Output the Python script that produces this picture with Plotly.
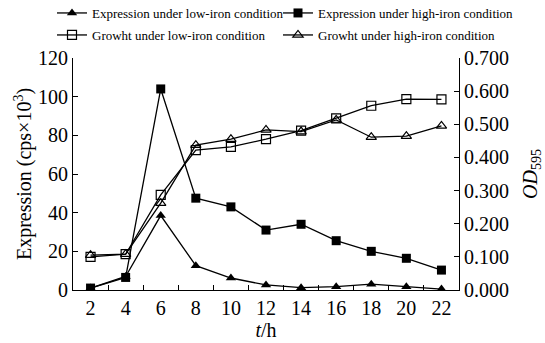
import plotly.graph_objects as go

hours = [2, 4, 6, 8, 10, 12, 14, 16, 18, 20, 22]
expr_low = [1.0, 7.0, 38.5, 12.6, 6.2, 2.6, 1.2, 1.7, 3.0, 1.7, 0.5]
expr_high = [1.0, 6.5, 104.0, 47.5, 43.0, 31.0, 34.0, 25.5, 20.0, 16.4, 10.3]
growth_low = [0.100, 0.108, 0.287, 0.422, 0.432, 0.455, 0.481, 0.518, 0.556, 0.576, 0.575]
growth_high = [0.105, 0.108, 0.262, 0.437, 0.455, 0.483, 0.478, 0.513, 0.461, 0.464, 0.495]

names = ["Expression under low-iron condition", "Expression under high-iron condition",
         "Growht under low-iron condition", "Growht under high-iron condition"]

FONT = "Liberation Serif, Times New Roman, serif"
line = dict(color="black", width=1.3)

fig = go.Figure()
fig.add_trace(go.Scatter(x=hours, y=expr_low, name=names[0], mode="lines+markers", legend="legend",
                         line=line, marker=dict(symbol="triangle-up", size=9, color="black")))
fig.add_trace(go.Scatter(x=hours, y=expr_high, name=names[1], mode="lines+markers", legend="legend2",
                         line=line, marker=dict(symbol="square", size=9, color="black")))
fig.add_trace(go.Scatter(x=hours, y=growth_low, name=names[2], mode="lines+markers", yaxis="y2",
                         legend="legend3",
                         line=line, marker=dict(symbol="square-open", size=9, color="black",
                                                line=dict(width=1.2))))
fig.add_trace(go.Scatter(x=hours, y=growth_high, name=names[3], mode="lines+markers", yaxis="y2",
                         legend="legend4",
                         line=line, marker=dict(symbol="triangle-up-open", size=9, color="black",
                                                line=dict(width=1.2))))

def leg(x, y):
    return dict(x=x, y=y, xref="paper", yref="paper", xanchor="left", yanchor="middle",
                font=dict(family=FONT, size=13, color="black"), itemwidth=30,
                bgcolor="rgba(0,0,0,0)", borderwidth=0)

# legend pixel rows at y≈13 and y≈35 (plot top 58, height 232)
r1 = 1 + (58 - 13) / 232
r2 = 1 + (58 - 35) / 232
c1 = (52 - 73) / 386
c2 = (278 - 73) / 386

fig.update_layout(
    width=545, height=343,
    margin=dict(l=73, r=86, t=58, b=53, autoexpand=False),
    paper_bgcolor="white", plot_bgcolor="white",
    font=dict(family=FONT, size=20, color="black"),
    showlegend=True,
    legend=leg(c1, r1), legend2=leg(c2, r1), legend3=leg(c1, r2), legend4=leg(c2, r2),
    xaxis=dict(range=[1, 23], tickvals=hours, ticks="", showline=True, linecolor="black",
               linewidth=1.2, showgrid=False, zeroline=False,
               minor=dict(tickvals=[3, 5, 7, 9, 11, 13, 15, 17, 19, 21], ticks="inside",
                          ticklen=5, tickcolor="black", showgrid=False),
               title=dict(text="<i>t</i>/h", font=dict(size=20), standoff=4)),
    yaxis=dict(range=[0, 120], dtick=20, ticks="inside", ticklen=5, tickcolor="black",
               showline=True, linecolor="black", linewidth=1.2, showgrid=False, zeroline=False,
               title=dict(text="Expression (cps×10<sup>3</sup>)", font=dict(size=20), standoff=0)),
    yaxis2=dict(range=[0, 0.7], dtick=0.1, tickformat=".3f", overlaying="y", side="right",
                ticks="inside", ticklen=5, tickcolor="black", showline=True, linecolor="black",
                linewidth=1.2, showgrid=False, zeroline=False,
                title=dict(text="<i>OD</i><sub>595</sub>", font=dict(size=20), standoff=14)),
)

fig.write_html("out.html")
